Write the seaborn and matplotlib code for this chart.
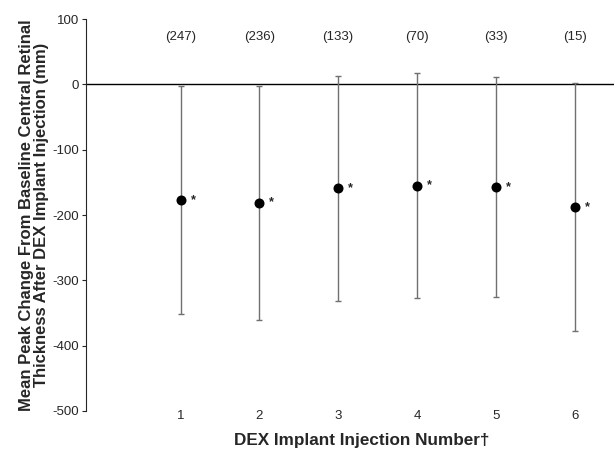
import seaborn as sns
import pandas as pd
import matplotlib.pyplot as plt

# Data
injection = [1, 2, 3, 4, 5, 6]
mean_change = [-177, -181, -159, -155, -157, -188]
sd_change = [175, 179, 172, 172, 168, 190]
n_labels = ['(247)', '(236)', '(133)', '(70)', '(33)', '(15)']
y_ticks = [100, 0, -100, -200, -300, -400, -500]

df = pd.DataFrame({'Injection': injection, 'Mean': mean_change, 'SD': sd_change})

sns.set_style('ticks')
plt.rcParams['font.family'] = ['Liberation Sans', 'DejaVu Sans']

fig = plt.figure(figsize=(6.14, 4.5), dpi=100)
ax = fig.add_axes([0.140, 0.0867, 0.860, 0.871])

# Error bars (SD) then the mean points
ax.errorbar(df['Injection'], df['Mean'], yerr=df['SD'], fmt='none',
            ecolor='#707070', elinewidth=1, capsize=2, capthick=1, zorder=2)
sns.scatterplot(x='Injection', y='Mean', data=df, ax=ax, color='black',
                s=52, edgecolor='black', linewidth=0, zorder=3, legend=False)

# Zero reference line
ax.axhline(0, color='black', linewidth=1, zorder=1)

# Significance stars and sample sizes
for x, m, lab in zip(df['Injection'], df['Mean'], n_labels):
    ax.annotate('*', (x, m), xytext=(9, 0), textcoords='offset points',
                ha='center', va='center', fontsize=9, fontweight='bold')
    ax.text(x, 72, lab, ha='center', va='center', fontsize=9.5)

ax.set_xlim(-0.2, 6.5)
ax.set_ylim(-500, 100)
ax.set_yticks(y_ticks)
ax.set_yticklabels([str(t) for t in y_ticks], fontsize=9.5)
ax.set_xticks(injection)
ax.set_xticklabels([str(i) for i in injection], fontsize=9.5)
ax.tick_params(axis='x', length=0, pad=-1)
ax.tick_params(axis='y', length=3, width=0.8, pad=2)

for side in ['top', 'right', 'bottom']:
    ax.spines[side].set_visible(False)
ax.spines['left'].set_linewidth(0.8)

ax.set_ylabel('Mean Peak Change From Baseline Central Retinal\n'
              'Thickness After DEX Implant Injection (mm)',
              fontsize=12, fontweight='bold', labelpad=2, linespacing=1.05)
ax.set_xlabel('DEX Implant Injection Number\u2020', fontsize=12.3,
              fontweight='bold')
ax.xaxis.set_label_coords(0.523, -0.056)

plt.savefig('out.png', dpi=100)
